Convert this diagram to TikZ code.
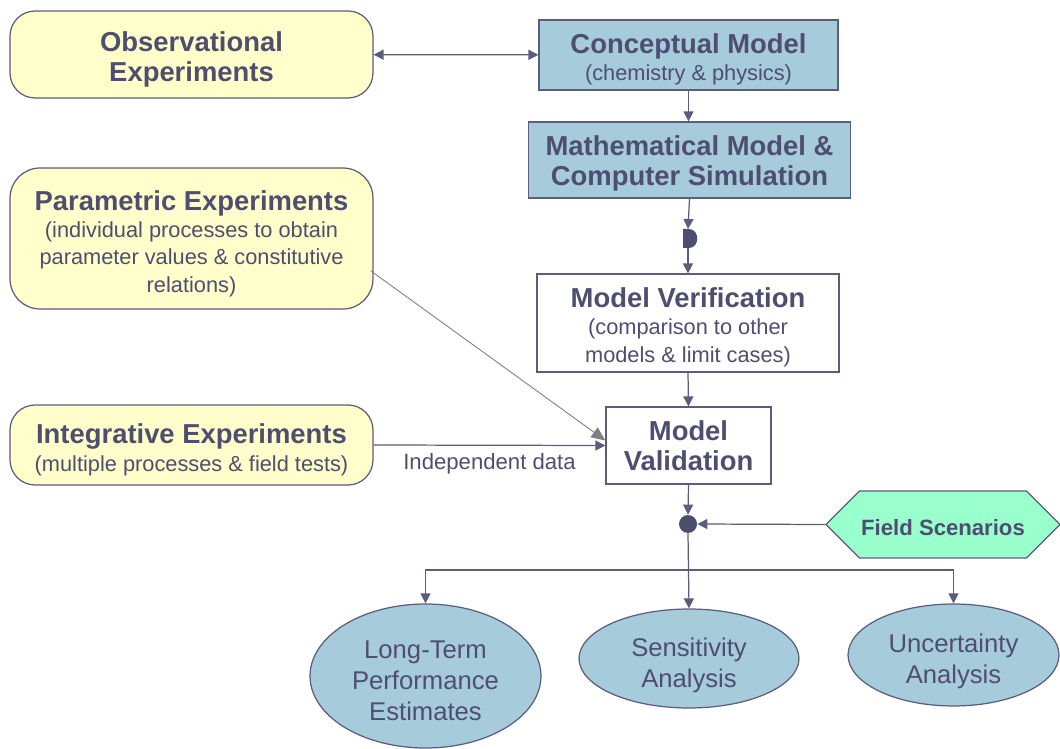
\documentclass[tikz,border=0pt]{standalone}
\usepackage{fontspec}
\setmainfont{Liberation Sans}
\usetikzlibrary{arrows.meta,shapes.geometric,shapes.symbols}

\definecolor{ink}{RGB}{78,78,112}
\definecolor{edge}{RGB}{92,92,124}
\definecolor{pale}{RGB}{255,255,204}
\definecolor{steel}{RGB}{166,203,218}
\definecolor{mint}{RGB}{153,255,204}

\newcommand\hd{\fontsize{15.6}{17}\selectfont\bfseries}
\newcommand\sm{\fontsize{12.4}{15.6}\selectfont}
\newcommand\lift[1]{\rule{0pt}{#1}}

\begin{document}
\begin{tikzpicture}[x=0.02cm, y=-0.02cm,
	every node/.style={text=ink, inner sep=0pt},
	link/.style={-{Triangle[length=0.2cm,width=0.2cm]}, draw=edge, line width=0.7pt},
	expbox/.style={draw=edge, fill=pale, rounded corners=0.5cm, align=center, line width=0.7pt},
	modbox/.style={draw=edge, fill=steel, align=center, line width=0.7pt},
	chkbox/.style={draw=edge, fill=white, align=center, line width=0.7pt},
	result/.style={ellipse, draw=edge, fill=steel, align=center, line width=0.7pt,
		font=\fontsize{14.6}{17.6}\selectfont}]
	\useasboundingbox (0,0) rectangle (1060,749);

	%esperimenti
	\node[expbox, font=\hd, minimum width=7.26cm, minimum height=1.74cm] (obs) at (191.5,54.5)
		{\lift{17pt}Observational\\Experiments};
	\node[expbox, font=\sm, rounded corners=0.6cm, minimum width=7.26cm, minimum height=2.82cm] (param) at (191.5,238.5)
		{{\hd\lift{17pt}Parametric Experiments}\\(individual processes to obtain\\parameter values \& constitutive\\relations)};
	\node[expbox, font=\sm, minimum width=7.26cm, minimum height=1.6cm] (integ) at (191.5,445)
		{{\hd\lift{17pt}Integrative Experiments}\\(multiple processes \& field tests)};

	%modelli
	\node[modbox, font=\sm, minimum width=5.98cm, minimum height=1.4cm] (concept) at (688.5,55)
		{{\hd\lift{16pt}Conceptual Model}\\(chemistry \& physics)};
	\node[modbox, font=\hd, minimum width=6.44cm, minimum height=1.52cm] (math) at (689.5,160)
		{\lift{14.8pt}Mathematical Model \&\\Computer Simulation};
	\node[chkbox, font=\sm, minimum width=6.04cm, minimum height=1.96cm] (verif) at (688,323)
		{{\hd\lift{16pt}Model Verification}\\(comparison to other\\models \& limit cases)};
	\node[chkbox, font=\hd, minimum width=3.3cm, minimum height=1.54cm] (valid) at (688.5,445.5)
		{Model\\Validation};

	%giunzioni
	\fill[ink] (683,229) -- (689,229) .. controls (700,229) and (700,248) .. (689,248) -- (683,248) -- cycle;
	\coordinate (dtop) at (688,229);
	\coordinate (dbot) at (688,248);
	\coordinate (pout) at (371,271);
	\node[circle, fill=ink, minimum size=0.36cm] (hub) at (688,524) {};
	\node[signal, signal to=west and east, signal pointer angle=90, draw=edge, fill=mint, line width=0.7pt,
		font=\fontsize{12.6}{15}\selectfont\bfseries, minimum width=4.68cm, minimum height=1.34cm] (field) at (943,524.5)
		{\lift{12.6pt}Field Scenarios};

	%risultati
	\node[result, minimum width=4.62cm, minimum height=2.88cm] (lt) at (425.5,676)
		{\lift{15.2pt}Long-Term\\Performance\\Estimates};
	\node[result, minimum width=4.4cm, minimum height=1.98cm] (sens) at (689,658.5)
		{\lift{18.6pt}Sensitivity\\Analysis};
	\node[result, minimum width=4.22cm, minimum height=2.04cm] (unc) at (953.5,655)
		{\lift{17.4pt}Uncertainty\\Analysis};

	%frecce
	\draw[link, {Triangle[length=0.2cm,width=0.2cm]}-{Triangle[length=0.2cm,width=0.2cm]}] (obs) -- (concept);
	\draw[link] (concept.south) -- (concept.south |- math.north);
	\draw[link] (math.south) -- (dtop);
	\draw[link] (dbot) -- (verif.north);
	\draw[link] (verif.south) -- (valid.north);
	\draw[-{Triangle[length=0.28cm,width=0.24cm]}, gray, line width=0.5pt] (pout) -- ([yshift=0.1cm]valid.west);
	\draw[link] (integ.east) -- (valid.west)
		node[midway, below=0.16cm, font=\fontsize{12.6}{15}\selectfont] {Independent data};
	\draw[link] (valid.south) -- (hub.north);
	\draw[link] (field.west) -- (hub.east);

	%diramazione
	\coordinate (split) at (688,570);
	\draw[link] (hub.south) -- (sens.north);
	\draw[link] (split) -| (lt.north);
	\draw[link] (split) -| (unc.north);
\end{tikzpicture}
\end{document}
